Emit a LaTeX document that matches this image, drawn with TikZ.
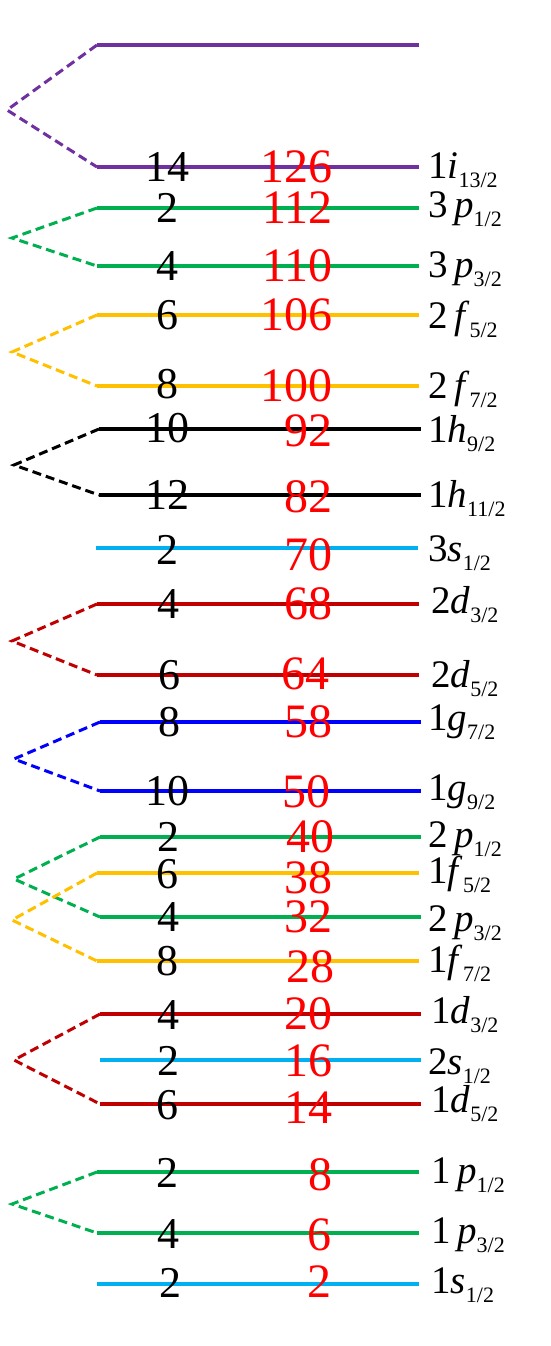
\documentclass[tikz,border=0pt]{standalone}
\usepackage{fontspec}
\setmainfont{Liberation Serif}
\usepackage{xcolor}
\definecolor{lvpurple}{RGB}{112,48,160}
\definecolor{lvgreen}{RGB}{0,176,80}
\definecolor{lvyellow}{RGB}{255,192,0}
\definecolor{lvcyan}{RGB}{0,176,240}
\definecolor{lvdarkred}{RGB}{192,0,0}
\definecolor{lvblue}{RGB}{0,0,255}
\definecolor{numred}{RGB}{255,0,0}
\newcommand{\jsub}[1]{\raisebox{-9pt}{\fontsize{22}{24}\selectfont #1}}

\begin{document}
\begin{tikzpicture}[x=1pt,y=-1pt,
    level/.style={line width=4pt},
    split/.style={line width=3pt, dash pattern=on 9pt off 5pt},
    occ/.style={inner sep=0pt, font=\fontsize{44}{48}\selectfont},
    tot/.style={inner sep=0pt, anchor=east, text=numred, font=\fontsize{48}{52}\selectfont},
    orb/.style={inner sep=0pt, anchor=base west, font=\fontsize{39}{44}\selectfont}]
    \useasboundingbox (0,0) rectangle (550,1346);

    % 1i splitting
    \draw[level,lvpurple] (97,45) coordinate (s1iup) -- (419,45) coordinate (e1iup);
    \draw[level,lvpurple] (97,167) coordinate (s1i13) -- (419,167) coordinate (e1i13);
    \node[occ] (n1i13) at (167,167) {14};
    \node[tot] (m1i13) at (333,167) {126};
    \node[orb] (t1i13) at (428,178) {1\textit{i}\jsub{13/2}};
    \coordinate (v1i) at (7,110);
    \draw[split,lvpurple] (s1iup) -- (v1i) -- (s1i13);

    % 3p splitting
    \draw[level,lvgreen] (97,208) coordinate (s3p1) -- (419,208) coordinate (e3p1);
    \node[occ] (n3p1) at (167,208) {2};
    \node[tot] (m3p1) at (333,208) {112};
    \node[orb] (t3p1) at (428,217) {3\,\textit{p}\jsub{1/2}};
    \draw[level,lvgreen] (97,266) coordinate (s3p3) -- (419,266) coordinate (e3p3);
    \node[occ] (n3p3) at (167,266) {4};
    \node[tot] (m3p3) at (333,266) {110};
    \node[orb] (t3p3) at (428,277) {3\,\textit{p}\jsub{3/2}};
    \coordinate (v3p) at (12,238);
    \draw[split,lvgreen] (s3p1) -- (v3p) -- (s3p3);

    % 2f splitting
    \draw[level,lvyellow] (97,315) coordinate (s2f5) -- (419,315) coordinate (e2f5);
    \node[occ] (n2f5) at (167,315) {6};
    \node[tot] (m2f5) at (333,315) {106};
    \node[orb] (t2f5) at (428,328) {2\,\textit{f}\jsub{5/2}};
    \draw[level,lvyellow] (97,386) coordinate (s2f7) -- (419,386) coordinate (e2f7);
    \node[occ] (n2f7) at (167,384) {8};
    \node[tot] (m2f7) at (333,386) {100};
    \node[orb] (t2f7) at (428,398) {2\,\textit{f}\jsub{7/2}};
    \coordinate (v2f) at (12,352);
    \draw[split,lvyellow] (s2f5) -- (v2f) -- (s2f7);

    % 1h splitting
    \draw[level,black] (99,429) coordinate (s1h9) -- (421,429) coordinate (e1h9);
    \node[occ] (n1h9) at (167,428) {10};
    \node[tot] (m1h9) at (333,431) {92};
    \node[orb] (t1h9) at (428,442) {1\textit{h}\jsub{9/2}};
    \draw[level,black] (99,495) coordinate (s1h11) -- (421,495) coordinate (e1h11);
    \node[occ] (n1h11) at (167,495) {12};
    \node[tot] (m1h11) at (333,497) {82};
    \node[orb] (t1h11) at (428,507) {1\textit{h}\jsub{11/2}};
    \coordinate (v1h) at (14,465);
    \draw[split,black] (s1h9) -- (v1h) -- (s1h11);

    % 3s
    \draw[level,lvcyan] (96,548) coordinate (s3s1) -- (418,548) coordinate (e3s1);
    \node[occ] (n3s1) at (167,550) {2};
    \node[tot] (m3s1) at (333,555) {70};
    \node[orb] (t3s1) at (428,561) {3\textit{s}\jsub{1/2}};

    % 2d splitting
    \draw[level,lvdarkred] (97,604) coordinate (s2d3) -- (419,604) coordinate (e2d3);
    \node[occ] (n2d3) at (168,604) {4};
    \node[tot] (m2d3) at (333,604) {68};
    \node[orb] (t2d3) at (431,613) {2\textit{d}\jsub{3/2}};
    \draw[level,lvdarkred] (97,675) coordinate (s2d5) -- (419,675) coordinate (e2d5);
    \node[occ] (n2d5) at (169,675) {6};
    \node[tot] (m2d5) at (330,674) {64};
    \node[orb] (t2d5) at (431,687) {2\textit{d}\jsub{5/2}};
    \coordinate (v2d) at (12,641);
    \draw[split,lvdarkred] (s2d3) -- (v2d) -- (s2d5);

    % 1g splitting
    \draw[level,lvblue] (100,722) coordinate (s1g7) -- (421,722) coordinate (e1g7);
    \node[occ] (n1g7) at (169,722) {8};
    \node[tot] (m1g7) at (333,722) {58};
    \node[orb] (t1g7) at (428,730) {1\textit{g}\jsub{7/2}};
    \draw[level,lvblue] (100,791) coordinate (s1g9) -- (421,791) coordinate (e1g9);
    \node[occ] (n1g9) at (167,791) {10};
    \node[tot] (m1g9) at (331,792) {50};
    \node[orb] (t1g9) at (428,800) {1\textit{g}\jsub{9/2}};
    \coordinate (v1g) at (14,759);
    \draw[split,lvblue] (s1g7) -- (v1g) -- (s1g9);

    % 2p and 1f splitting
    \draw[level,lvgreen] (100,837) coordinate (s2p1) -- (421,837) coordinate (e2p1);
    \node[occ] (n2p1) at (168,837) {2};
    \node[tot] (m2p1) at (335,837) {40};
    \node[orb] (t2p1) at (428,847) {2\,\textit{p}\jsub{1/2}};
    \draw[level,lvyellow] (97,873) coordinate (s1f5) -- (419,873) coordinate (e1f5);
    \node[occ] (n1f5) at (167,874) {6};
    \node[tot] (m1f5) at (333,878) {38};
    \node[orb] (t1f5) at (428,883) {1\textit{f}\jsub{5/2}};
    \draw[level,lvgreen] (100,917) coordinate (s2p3) -- (421,917) coordinate (e2p3);
    \node[occ] (n2p3) at (168,917) {4};
    \node[tot] (m2p3) at (333,917) {32};
    \node[orb] (t2p3) at (428,931) {2\,\textit{p}\jsub{3/2}};
    \draw[level,lvyellow] (97,961) coordinate (s1f7) -- (419,961) coordinate (e1f7);
    \node[occ] (n1f7) at (167,961) {8};
    \node[tot] (m1f7) at (335,967) {28};
    \node[orb] (t1f7) at (428,972) {1\textit{f}\jsub{7/2}};
    \coordinate (v2p) at (14,879);
    \coordinate (v1f) at (12,920);
    \draw[split,lvgreen] (s2p1) -- (v2p) -- (s2p3);
    \draw[split,lvyellow] (s1f5) -- (v1f) -- (s1f7);

    % 1d and 2s
    \draw[level,lvdarkred] (100,1014) coordinate (s1d3) -- (421,1014) coordinate (e1d3);
    \node[occ] (n1d3) at (168,1015) {4};
    \node[tot] (m1d3) at (333,1014) {20};
    \node[orb] (t1d3) at (431,1023) {1\textit{d}\jsub{3/2}};
    \draw[level,lvcyan] (100,1060) coordinate (s2s1) -- (421,1060) coordinate (e2s1);
    \node[occ] (n2s1) at (168,1061) {2};
    \node[tot] (m2s1) at (333,1061) {16};
    \node[orb] (t2s1) at (428,1074) {2\textit{s}\jsub{1/2}};
    \draw[level,lvdarkred] (100,1104) coordinate (s1d5) -- (421,1104) coordinate (e1d5);
    \node[occ] (n1d5) at (167,1105) {6};
    \node[tot] (m1d5) at (333,1108) {14};
    \node[orb] (t1d5) at (431,1112) {1\textit{d}\jsub{5/2}};
    \coordinate (v1d) at (14,1060);
    \draw[split,lvdarkred] (s1d3) -- (v1d) -- (s1d5);

    % 1p splitting
    \draw[level,lvgreen] (97,1172) coordinate (s1p1) -- (419,1172) coordinate (e1p1);
    \node[occ] (n1p1) at (167,1173) {2};
    \node[tot] (m1p1) at (333,1175) {8};
    \node[orb] (t1p1) at (431,1183) {1\,\textit{p}\jsub{1/2}};
    \draw[level,lvgreen] (97,1233) coordinate (s1p3) -- (419,1233) coordinate (e1p3);
    \node[occ] (n1p3) at (168,1234) {4};
    \node[tot] (m1p3) at (332,1235) {6};
    \node[orb] (t1p3) at (431,1243) {1\,\textit{p}\jsub{3/2}};
    \coordinate (v1p) at (12,1204);
    \draw[split,lvgreen] (s1p1) -- (v1p) -- (s1p3);

    % 1s
    \draw[level,lvcyan] (97,1284) coordinate (s1s1) -- (419,1284) coordinate (e1s1);
    \node[occ] (n1s1) at (170,1283) {2};
    \node[tot] (m1s1) at (332,1282) {2};
    \node[orb] (t1s1) at (431,1293) {1\textit{s}\jsub{1/2}};
\end{tikzpicture}
\end{document}
